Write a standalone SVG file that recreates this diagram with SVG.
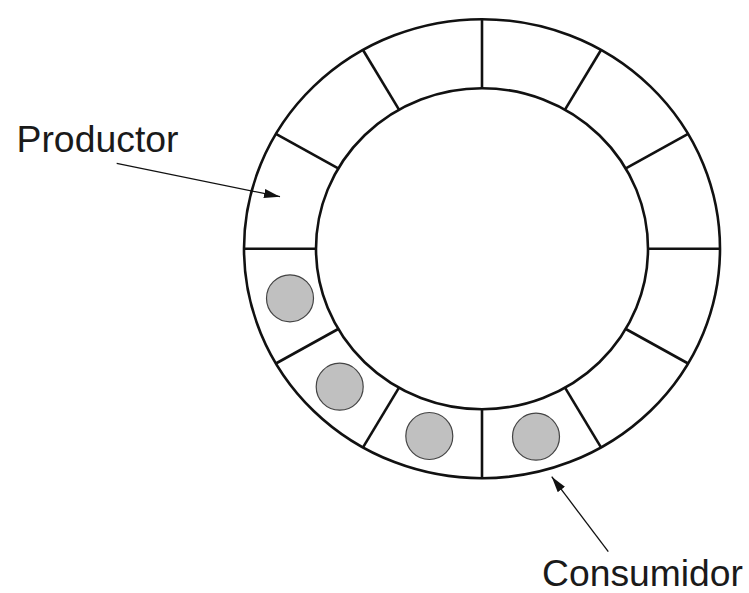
<svg xmlns="http://www.w3.org/2000/svg" width="749" height="593" viewBox="0 0 749 593">
<style>
.ring{fill:none;stroke:#111;stroke-width:2.6}
.div{stroke:#111;stroke-width:2.6}
.item{fill:#c0c0c0;stroke:#444;stroke-width:1.2}
.lbl{font-family:"Liberation Sans",Arial,sans-serif;font-size:37px;fill:#1a1a1a}
.conn{stroke:#111;stroke-width:1.3;fill:none}
</style>
<defs>
<marker id="ah" viewBox="0 0 16 9" refX="16" refY="4.5" markerWidth="16" markerHeight="9" markerUnits="userSpaceOnUse" orient="auto">
<path d="M0,0 L16,4.5 L0,9 z" fill="#111"/>
</marker>
</defs>
<rect width="749" height="593" fill="#fff"/>
<g id="buffer">
<ellipse class="ring" cx="482" cy="248.7" rx="238" ry="229.5"/>
<ellipse class="ring" cx="482" cy="248.7" rx="166" ry="160.5"/>
<g id="dividers">
<line class="div" x1="720" y1="248.7" x2="648" y2="248.7"/>
<line class="div" x1="688.1" y1="133.9" x2="625.8" y2="168.4"/>
<line class="div" x1="601" y1="50" x2="565" y2="109.7"/>
<line class="div" x1="482" y1="19.2" x2="482" y2="88.2"/>
<line class="div" x1="363" y1="50" x2="399" y2="109.7"/>
<line class="div" x1="275.9" y1="133.9" x2="338.2" y2="168.4"/>
<line class="div" x1="244" y1="248.7" x2="316" y2="248.7"/>
<line class="div" x1="275.9" y1="363.5" x2="338.2" y2="329"/>
<line class="div" x1="363" y1="447.4" x2="399" y2="387.7"/>
<line class="div" x1="482" y1="478.2" x2="482" y2="409.2"/>
<line class="div" x1="601" y1="447.4" x2="565" y2="387.7"/>
<line class="div" x1="688.1" y1="363.5" x2="625.8" y2="329"/>
</g>
</g>
<g id="items">
<circle id="item1" class="item" cx="290" cy="298.3" r="23.5"/>
<circle id="item2" class="item" cx="339.7" cy="386.7" r="23.5"/>
<circle id="item3" class="item" cx="429.3" cy="436" r="23.5"/>
<circle id="item4" class="item" cx="536" cy="436.7" r="23.5"/>
</g>
<g id="productor">
<text class="lbl" x="16.5" y="151.5" textLength="162" lengthAdjust="spacingAndGlyphs">Productor</text>
</g>
<g id="consumidor">
<text class="lbl" x="542" y="585.5" style="font-size:36px" textLength="201" lengthAdjust="spacingAndGlyphs">Consumidor</text>
</g>
<g id="connectors">
<line class="conn" x1="116.7" y1="163.3" x2="280" y2="196.7" marker-end="url(#ah)"/>
<line class="conn" x1="608.3" y1="551.7" x2="551.7" y2="476.7" marker-end="url(#ah)"/>
</g>
</svg>
